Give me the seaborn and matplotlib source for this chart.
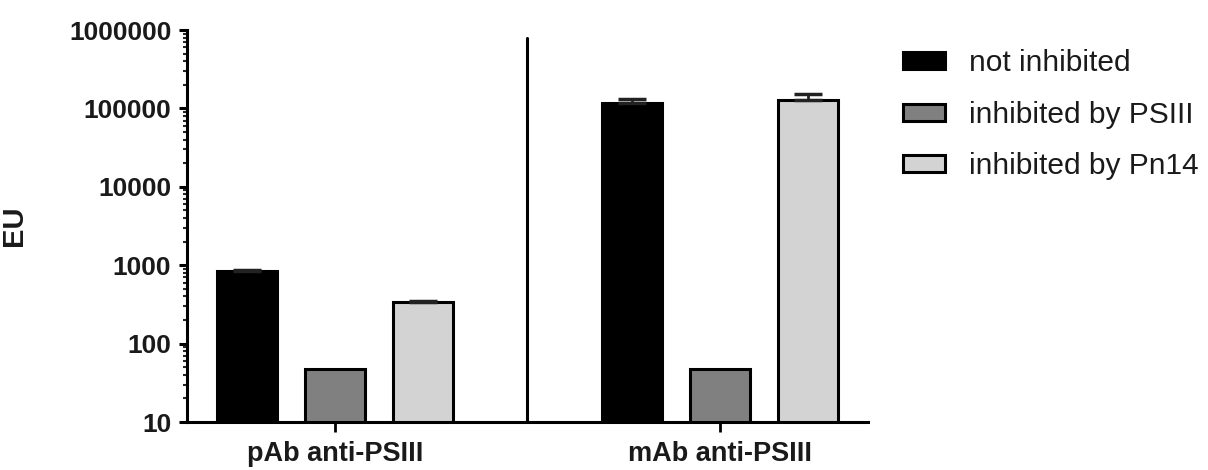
"""Log-scale grouped bar chart of EU values with and without inhibition."""

import matplotlib.pyplot as plt
import pandas as pd
import seaborn as sns
from matplotlib.patches import Patch
from matplotlib.ticker import FixedLocator, LogLocator, NullFormatter

plt.switch_backend("Agg")

GROUPS = ["pAb anti-PSIII", "mAb anti-PSIII"]
CONDITIONS = ["not inhibited", "inhibited by PSIII", "inhibited by Pn14"]
COLORS = ["#000000", "#808080", "#d3d3d3"]

# values (rows: condition, columns: group)
NOT_INHIBITED = [845, 118000]
INHIBITED_PSIII = [48, 48]
INHIBITED_PN14 = [335, 128000]

# upper error only (SD), as drawn in the reference
ERR_NOT_INHIBITED = [30, 16000]
ERR_INHIBITED_PSIII = [0, 0]
ERR_INHIBITED_PN14 = [10, 24000]

Y_TICKS = [10, 100, 1000, 10000, 100000, 1000000]
Y_TICK_LABELS = ["10", "100", "1000", "10000", "100000", "1000000"]

values = [NOT_INHIBITED, INHIBITED_PSIII, INHIBITED_PN14]
errors = [ERR_NOT_INHIBITED, ERR_INHIBITED_PSIII, ERR_INHIBITED_PN14]

frame = pd.DataFrame(
    [
        {"group": g, "condition": c, "EU": v}
        for c, row in zip(CONDITIONS, values)
        for g, v in zip(GROUPS, row)
    ]
)

sns.set_theme(style="white")
plt.rcParams["font.family"] = ["Liberation Sans", "DejaVu Sans"]

fig = plt.figure(figsize=(12.08, 4.70), dpi=100)
ax = fig.add_axes([0.1548, 0.1021, 0.7185 - 0.1548, 0.936 - 0.1021])

sns.barplot(
    data=frame,
    x="group",
    y="EU",
    hue="condition",
    order=GROUPS,
    hue_order=CONDITIONS,
    palette=COLORS,
    width=0.687,
    gap=0.32,
    edgecolor="black",
    linewidth=2.2,
    errorbar=None,
    legend=False,
    ax=ax,
)

# upper-only error bars, placed on the bars seaborn drew
for container, err_row in zip(ax.containers, errors):
    for bar, err in zip(container, err_row):
        if err <= 0:
            continue
        ax.errorbar(
            bar.get_x() + bar.get_width() / 2,
            bar.get_height(),
            yerr=[[0], [err]],
            fmt="none",
            ecolor="#222222",
            elinewidth=2,
            capsize=10,
            capthick=2.5,
            zorder=1,
        )

ax.set_yscale("log")
ax.set_ylim(10, 1000000)
ax.set_xlim(-0.384, 1.384)
ax.yaxis.set_major_locator(FixedLocator(Y_TICKS))
ax.set_yticklabels(Y_TICK_LABELS)
ax.yaxis.set_minor_locator(LogLocator(base=10, subs=range(2, 10)))
ax.yaxis.set_minor_formatter(NullFormatter())

ax.axvline(0.5, ymin=0, ymax=0.98, color="black", linewidth=2.2)

for side in ["top", "right"]:
    ax.spines[side].set_visible(False)
for side in ["left", "bottom"]:
    ax.spines[side].set_linewidth(2.2)
    ax.spines[side].set_color("black")

ax.tick_params(axis="y", which="major", left=True, length=5.8, width=2.2,
               labelsize=19, pad=5.5, colors="black")
ax.tick_params(axis="y", which="minor", left=True, length=3, width=1.5)
ax.tick_params(axis="x", which="major", bottom=True, length=7, width=2,
               labelsize=19.5, pad=7, colors="black")
for label in ax.get_yticklabels() + ax.get_xticklabels():
    label.set_fontweight("bold")
    label.set_color("#1a1a1a")

ax.set_xlabel("")
ax.set_ylabel("EU", fontsize=21, fontweight="bold", color="#1a1a1a")
ax.yaxis.set_label_coords(-0.234, 0.5)

handles = [
    Patch(facecolor=col, edgecolor="black", linewidth=2.2) for col in COLORS
]
fig.legend(
    handles,
    CONDITIONS,
    loc="upper left",
    bbox_to_anchor=(0.7475, 0.895),
    frameon=False,
    fontsize=21.5,
    handlelength=1.4,
    handleheight=0.5,
    handletextpad=0.8,
    labelspacing=0.78,
    borderpad=0,
    borderaxespad=0,
    labelcolor="#1a1a1a",
)

fig.savefig("out.png", dpi=100)
plt.close(fig)
